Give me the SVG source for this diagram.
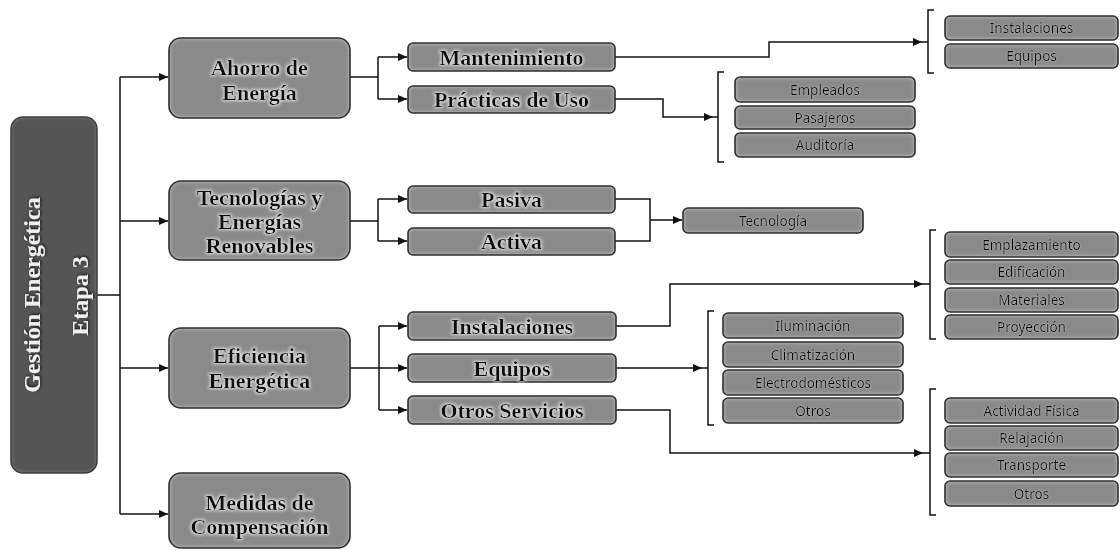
<svg xmlns="http://www.w3.org/2000/svg" width="1120" height="550" viewBox="0 0 1120 550">
<defs>
<style>
.bg{fill:#8a8a8a;stroke:none;filter:url(#inner)}
.bd{fill:none;stroke:#2e2e2e;stroke-width:1.6}
.rootbg{fill:#545454;stroke:none;filter:url(#innerDark)}
.t1{font-family:"Liberation Serif","Times New Roman",serif;font-weight:bold;font-size:22px;fill:#111;text-anchor:middle;filter:url(#halo)}
.t2{font-family:"Liberation Serif","Times New Roman",serif;font-weight:bold;font-size:22px;fill:#111;text-anchor:middle;filter:url(#halo)}
.t3{font-family:"Noto Sans","Liberation Sans",Arial,sans-serif;font-size:13.5px;fill:#000;text-anchor:middle;filter:url(#halo2)}
.tr{font-family:"Liberation Serif","Times New Roman",serif;font-weight:bold;font-size:24px;fill:#f0f0f0;text-anchor:middle;filter:url(#shadow)}
.c{fill:none;stroke:#111;stroke-width:1.5}
.a{marker-end:url(#arr)}
</style>
<marker id="arr" markerUnits="userSpaceOnUse" markerWidth="9" markerHeight="8" refX="9" refY="4" orient="auto">
<path d="M0,0 L9,4 L0,8 z" fill="#111"/>
</marker>
<filter id="inner" x="-5%" y="-20%" width="110%" height="140%">
<feFlood flood-color="#d6d6d6" flood-opacity="0.85" result="f"/>
<feGaussianBlur in="SourceAlpha" stdDeviation="2" result="b"/>
<feComposite in="f" in2="b" operator="out" result="o"/>
<feComposite in="o" in2="SourceAlpha" operator="in" result="e"/>
<feMerge><feMergeNode in="SourceGraphic"/><feMergeNode in="e"/></feMerge>
</filter>
<filter id="innerDark" x="-10%" y="-5%" width="120%" height="110%">
<feFlood flood-color="#8a8a8a" flood-opacity="0.8" result="f"/>
<feGaussianBlur in="SourceAlpha" stdDeviation="2" result="b"/>
<feComposite in="f" in2="b" operator="out" result="o"/>
<feComposite in="o" in2="SourceAlpha" operator="in" result="e"/>
<feMerge><feMergeNode in="SourceGraphic"/><feMergeNode in="e"/></feMerge>
</filter>
<filter id="halo" x="-10%" y="-40%" width="120%" height="180%">
<feMorphology in="SourceAlpha" operator="dilate" radius="1" result="d"/>
<feGaussianBlur in="d" stdDeviation="1.4" result="b"/>
<feFlood flood-color="#ffffff" flood-opacity="0.7"/>
<feComposite in2="b" operator="in" result="g"/>
<feMerge><feMergeNode in="g"/><feMergeNode in="SourceGraphic"/></feMerge>
</filter>
<filter id="halo2" x="-10%" y="-40%" width="120%" height="180%">
<feGaussianBlur in="SourceAlpha" stdDeviation="1.2" result="b"/>
<feFlood flood-color="#ffffff" flood-opacity="0.4"/>
<feComposite in2="b" operator="in" result="g"/>
<feMerge><feMergeNode in="g"/><feMergeNode in="SourceGraphic"/></feMerge>
</filter>
<filter id="shadow" x="-20%" y="-40%" width="140%" height="180%">
<feGaussianBlur in="SourceAlpha" stdDeviation="1.5" result="b"/>
<feOffset in="b" dx="1" dy="1" result="o"/>
<feFlood flood-color="#000" flood-opacity="0.8"/>
<feComposite in2="o" operator="in" result="s"/>
<feMerge><feMergeNode in="s"/><feMergeNode in="SourceGraphic"/></feMerge>
</filter>
</defs>
<rect width="1120" height="550" fill="#fff"/>

<g id="connectors">
<path class="c" d="M97,295 H120 M120,77 V514"/>
<path class="c a" d="M120,77 H168"/>
<path class="c a" d="M120,221 H168"/>
<path class="c a" d="M120,368 H168"/>
<path class="c a" d="M120,514 H168"/>
<path class="c" d="M350,77 H378 M378,57 V99"/>
<path class="c a" d="M378,57 H407"/>
<path class="c a" d="M378,99 H407"/>
<path class="c a" d="M615,57 H769 V42 H922"/>
<path class="c a" d="M615,99 H663 V117 H713"/>
<path class="c" d="M350,221 H378 M378,199 V241"/>
<path class="c a" d="M378,199 H407"/>
<path class="c a" d="M378,241 H407"/>
<path class="c" d="M615,199 H650 V241 H615"/>
<path class="c a" d="M650,220 H682"/>
<path class="c" d="M350,368 H379 M379,326 V410"/>
<path class="c a" d="M379,326 H407"/>
<path class="c a" d="M379,368 H407"/>
<path class="c a" d="M379,410 H407"/>
<path class="c a" d="M616,326 H670 V284 H923"/>
<path class="c a" d="M616,368 H702"/>
<path class="c a" d="M616,410 H670 V453 H923"/>
<path class="c" d="M934,10 H928 V73 H934 M922,42 H928"/>
<path class="c" d="M724,72 H718 V162 H724 M713,117 H718"/>
<path class="c" d="M936,230 H930 V339 H936 M923,284 H930"/>
<path class="c" d="M714,311 H708 V425 H714 M702,368 H708"/>
<path class="c" d="M936,389 H930 V515 H936 M923,453 H930"/>
</g>

<g id="root">
<rect class="rootbg" x="11" y="117" width="86" height="356" rx="12"/>
<rect x="11" y="117" width="86" height="356" rx="12" fill="none" stroke="#3c3c3c" stroke-width="1.5"/>
<text class="tr" transform="translate(40,295) rotate(-90)">Gestión Energética</text>
<text class="tr" transform="translate(88,296) rotate(-90)">Etapa 3</text>
</g>

<g id="n-ahorro">
<rect class="bg" x="169" y="38" width="181" height="80" rx="12"/>
<rect class="bd" x="169" y="38" width="181" height="80" rx="12"/>
<text class="t1" x="259.5" y="75">Ahorro de</text>
<text class="t1" x="259.5" y="100">Energía</text>
</g>
<g id="n-tecnologias">
<rect class="bg" x="169" y="181" width="181" height="79" rx="12"/>
<rect class="bd" x="169" y="181" width="181" height="79" rx="12"/>
<text class="t1" x="259.5" y="205">Tecnologías y</text>
<text class="t1" x="259.5" y="229">Energías</text>
<text class="t1" x="259.5" y="253">Renovables</text>
</g>
<g id="n-eficiencia">
<rect class="bg" x="169" y="328" width="181" height="80" rx="12"/>
<rect class="bd" x="169" y="328" width="181" height="80" rx="12"/>
<text class="t1" x="259.5" y="363">Eficiencia</text>
<text class="t1" x="259.5" y="388">Energética</text>
</g>
<g id="n-medidas">
<rect class="bg" x="169" y="473" width="181" height="75" rx="12"/>
<rect class="bd" x="169" y="473" width="181" height="75" rx="12"/>
<text class="t1" x="259.5" y="510">Medidas de</text>
<text class="t1" x="259.5" y="534">Compensación</text>
</g>

<g id="n-mantenimiento">
<rect class="bg" x="408" y="43" width="207" height="28" rx="5"/>
<rect class="bd" x="408" y="43" width="207" height="28" rx="5"/>
<text class="t2" x="511.5" y="65">Mantenimiento</text>
</g>
<g id="n-practicas">
<rect class="bg" x="408" y="86" width="207" height="27" rx="5"/>
<rect class="bd" x="408" y="86" width="207" height="27" rx="5"/>
<text class="t2" x="511.5" y="107">Prácticas de Uso</text>
</g>
<g id="n-pasiva">
<rect class="bg" x="408" y="186" width="207" height="27" rx="5"/>
<rect class="bd" x="408" y="186" width="207" height="27" rx="5"/>
<text class="t2" x="511.5" y="207">Pasiva</text>
</g>
<g id="n-activa">
<rect class="bg" x="408" y="228" width="207" height="27" rx="5"/>
<rect class="bd" x="408" y="228" width="207" height="27" rx="5"/>
<text class="t2" x="511.5" y="249">Activa</text>
</g>
<g id="n-instalaciones2">
<rect class="bg" x="408" y="312" width="208" height="28" rx="5"/>
<rect class="bd" x="408" y="312" width="208" height="28" rx="5"/>
<text class="t2" x="512" y="334">Instalaciones</text>
</g>
<g id="n-equipos2">
<rect class="bg" x="408" y="354" width="208" height="28" rx="5"/>
<rect class="bd" x="408" y="354" width="208" height="28" rx="5"/>
<text class="t2" x="512" y="376">Equipos</text>
</g>
<g id="n-otrosservicios">
<rect class="bg" x="408" y="396" width="208" height="28" rx="5"/>
<rect class="bd" x="408" y="396" width="208" height="28" rx="5"/>
<text class="t2" x="512" y="418">Otros Servicios</text>
</g>

<g id="n-tecnologia">
<rect class="bg" x="683" y="208" width="180" height="25" rx="5"/>
<rect class="bd" x="683" y="208" width="180" height="25" rx="5"/>
<text class="t3" x="773" y="225.5">Tecnología</text>
</g>

<g id="n-m-instalaciones">
<rect class="bg" x="945" y="16" width="173" height="24" rx="5"/>
<rect class="bd" x="945" y="16" width="173" height="24" rx="5"/>
<text class="t3" x="1031.5" y="33">Instalaciones</text>
</g>
<g id="n-m-equipos">
<rect class="bg" x="945" y="44" width="173" height="24" rx="5"/>
<rect class="bd" x="945" y="44" width="173" height="24" rx="5"/>
<text class="t3" x="1031.5" y="61">Equipos</text>
</g>

<g id="n-empleados">
<rect class="bg" x="735" y="77" width="180" height="25" rx="5"/>
<rect class="bd" x="735" y="77" width="180" height="25" rx="5"/>
<text class="t3" x="825" y="94.5">Empleados</text>
</g>
<g id="n-pasajeros">
<rect class="bg" x="735" y="106" width="180" height="23" rx="5"/>
<rect class="bd" x="735" y="106" width="180" height="23" rx="5"/>
<text class="t3" x="825" y="122.5">Pasajeros</text>
</g>
<g id="n-auditoria">
<rect class="bg" x="735" y="133" width="180" height="24" rx="5"/>
<rect class="bd" x="735" y="133" width="180" height="24" rx="5"/>
<text class="t3" x="825" y="150">Auditoría</text>
</g>

<g id="n-emplazamiento">
<rect class="bg" x="945" y="232" width="173" height="25" rx="5"/>
<rect class="bd" x="945" y="232" width="173" height="25" rx="5"/>
<text class="t3" x="1031.5" y="249.5">Emplazamiento</text>
</g>
<g id="n-edificacion">
<rect class="bg" x="945" y="260" width="173" height="24" rx="5"/>
<rect class="bd" x="945" y="260" width="173" height="24" rx="5"/>
<text class="t3" x="1031.5" y="277">Edificación</text>
</g>
<g id="n-materiales">
<rect class="bg" x="945" y="288" width="173" height="24" rx="5"/>
<rect class="bd" x="945" y="288" width="173" height="24" rx="5"/>
<text class="t3" x="1031.5" y="305">Materiales</text>
</g>
<g id="n-proyeccion">
<rect class="bg" x="945" y="315" width="173" height="24" rx="5"/>
<rect class="bd" x="945" y="315" width="173" height="24" rx="5"/>
<text class="t3" x="1031.5" y="332">Proyección</text>
</g>

<g id="n-iluminacion">
<rect class="bg" x="723" y="313" width="180" height="25" rx="5"/>
<rect class="bd" x="723" y="313" width="180" height="25" rx="5"/>
<text class="t3" x="813" y="330.5">Iluminación</text>
</g>
<g id="n-climatizacion">
<rect class="bg" x="723" y="342" width="180" height="25" rx="5"/>
<rect class="bd" x="723" y="342" width="180" height="25" rx="5"/>
<text class="t3" x="813" y="359.5">Climatización</text>
</g>
<g id="n-electrodomesticos">
<rect class="bg" x="723" y="370" width="180" height="25" rx="5"/>
<rect class="bd" x="723" y="370" width="180" height="25" rx="5"/>
<text class="t3" x="813" y="387.5">Electrodomésticos</text>
</g>
<g id="n-otros1">
<rect class="bg" x="723" y="398" width="180" height="25" rx="5"/>
<rect class="bd" x="723" y="398" width="180" height="25" rx="5"/>
<text class="t3" x="813" y="415.5">Otros</text>
</g>

<g id="n-actividad">
<rect class="bg" x="945" y="398" width="173" height="25" rx="5"/>
<rect class="bd" x="945" y="398" width="173" height="25" rx="5"/>
<text class="t3" x="1031.5" y="415.5">Actividad Física</text>
</g>
<g id="n-relajacion">
<rect class="bg" x="945" y="426" width="173" height="24" rx="5"/>
<rect class="bd" x="945" y="426" width="173" height="24" rx="5"/>
<text class="t3" x="1031.5" y="443">Relajación</text>
</g>
<g id="n-transporte">
<rect class="bg" x="945" y="453" width="173" height="24" rx="5"/>
<rect class="bd" x="945" y="453" width="173" height="24" rx="5"/>
<text class="t3" x="1031.5" y="470">Transporte</text>
</g>
<g id="n-otros2">
<rect class="bg" x="945" y="481" width="173" height="25" rx="5"/>
<rect class="bd" x="945" y="481" width="173" height="25" rx="5"/>
<text class="t3" x="1031.5" y="498.5">Otros</text>
</g>
</svg>
